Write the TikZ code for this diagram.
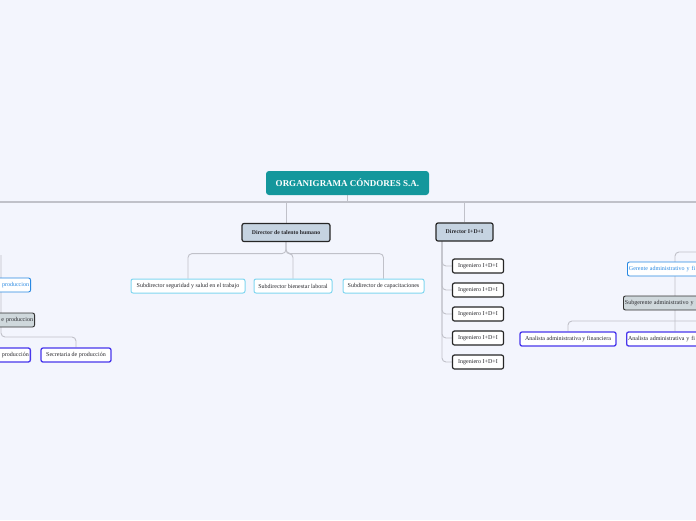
\documentclass[tikz,border=0pt]{standalone}
\usepackage{fontspec}
\setmainfont{Liberation Serif}
\usetikzlibrary{positioning}
\pgfdeclarelayer{back}
\pgfsetlayers{back,main}
\definecolor{paper}{RGB}{243,245,253}
\definecolor{titlefill}{RGB}{20,151,156}
\definecolor{dirfill}{RGB}{197,211,225}
\definecolor{subline}{RGB}{128,214,240}
\definecolor{gerblue}{RGB}{40,136,226}
\definecolor{grayfill}{RGB}{207,216,220}
\definecolor{analine}{RGB}{72,54,236}
\definecolor{connline}{RGB}{192,193,201}
\definecolor{ink}{RGB}{40,40,45}

\begin{document}
\begin{tikzpicture}[x=1pt, y=-1pt,
  box/.style={rounded corners=2pt, minimum height=14pt, inner sep=1.5pt, fill=white,
    text=ink, font=\fontsize{6}{7}\selectfont},
  titlebox/.style={rounded corners=3pt, fill=titlefill, text=white, minimum width=163pt,
    minimum height=24pt, font=\fontsize{9}{10}\selectfont\bfseries},
  dirbox/.style={box, fill=dirfill, draw=black!85, line width=1.2pt, minimum height=18pt,
    font=\fontsize{5.8}{6}\selectfont\bfseries},
  subbox/.style={box, draw=subline, line width=1pt},
  ingbox/.style={box, draw=black!85, line width=1.2pt, minimum width=51pt},
  gerbox/.style={box, draw=gerblue, line width=0.9pt, text=gerblue},
  graybox/.style={box, fill=grayfill, draw=black!80, line width=0.9pt},
  anabox/.style={box, draw=analine, line width=1.3pt},
  conn/.style={draw=connline, line width=0.9pt, rounded corners=4pt}]
\useasboundingbox (0,0) rectangle (696,520);
\clip (0,0) rectangle (696,520);

% top level
\node[titlebox] (title) at (347.5,183) {ORGANIGRAMA CÓNDORES S.A.};
\node[dirbox, minimum width=88pt] (talento) at (286,232.5) {Director de talento humano};
\node[dirbox, minimum width=57pt] (idi) at (464.5,232) {Director I+D+I};

% talento humano
\node[subbox, minimum width=114pt] (sub1) at (188,286) {Subdirector seguridad y salud en el trabajo};
\node[subbox, minimum width=78pt] (sub2) at (293,286) {Subdirector bienestar laboral};
\node[subbox, minimum width=81pt] (sub3) at (383.5,286) {Subdirector de capacitaciones};

% I+D+I
\foreach \i in {1,...,5}
  \node[ingbox] (ing\i) at (478,242+24*\i) {Ingeniero I+D+I};

% produccion (left, cut by the edge)
\node[gerbox, anchor=east, text width=52pt, align=right] (prodA) at (31,285) {produccion};
\node[graybox, anchor=east, text width=56pt, align=right] (prodB) at (35,320) {e produccion};
\node[anabox, anchor=east, text width=52pt, align=right] (prodC) at (31,355) {producción};
\node[anabox, minimum width=70pt] (secr) at (76,355) {Secretaria de producción};

% administrativa (right, cut by the edge)
\node[gerbox, anchor=west, text width=90pt, align=left] (ger) at (627,269) {Gerente administrativo y fi};
\node[graybox, anchor=west, text width=95pt, align=left] (subger) at (623,303) {Subgerente administrativo y};
\node[anabox, minimum width=96pt] (ana1) at (568,339) {Analista administrativa y financiera};
\node[anabox, anchor=west, text width=95pt, align=left] (ana2) at (626,339) {Analista administrativa y fi};

\coordinate (bl) at (0,202);
\coordinate (br) at (696,202);
\coordinate (trunk) at (442,241);
\coordinate (lv) at (1,255);
\coordinate (rv) at (696,252);
\coordinate (rx) at (675,252);
\coordinate (rh) at (696,321);

\begin{pgfonlayer}{back}
\fill[paper] (0,0) rectangle (696,520);
\draw[conn, line width=1.3pt] (bl) -- (br);
\draw[conn] (title.south) -- (title.south |- bl);
\draw[conn] (talento.north) -- (talento.north |- bl);
\draw[conn] (idi.north) -- (idi.north |- bl);
\foreach \s in {sub1,sub2,sub3}
  \draw[conn] (talento.south) -- ++(0,11.5) -| (\s.north);
\foreach \i in {1,...,5}
  \draw[conn] (trunk) |- (ing\i.west);
\draw[conn] (lv) -- ++(0,82) -| (secr.north);
\draw[conn] (rv) -| (ana2.north -| rx);
\draw[conn] (rh) -| (ana1.north);
\end{pgfonlayer}
\end{tikzpicture}
\end{document}
